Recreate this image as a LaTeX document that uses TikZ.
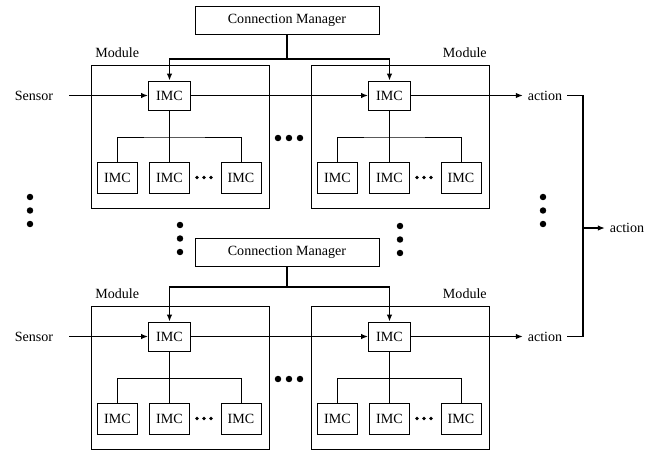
\documentclass[tikz,border=0pt]{standalone}
\usepackage{fontspec}
\setmainfont{Liberation Serif}
\usetikzlibrary{arrows.meta}

\begin{document}
\begin{tikzpicture}[
    x=0.025cm, y=-0.025cm,
    box/.style={draw, line width=0.6pt, inner sep=0pt, minimum width=1.05cm, minimum height=0.725cm},
    subbox/.style={box, minimum width=1cm, minimum height=0.775cm},
    module/.style={draw, line width=0.6pt, inner sep=0pt, minimum width=4.45cm, minimum height=3.575cm},
    manager/.style={box, minimum width=4.6cm, minimum height=0.7cm},
    arr/.style={-{Latex[length=5pt,width=4pt]}, line width=1pt},
    wire/.style={line width=0.6pt}
  ]
  \useasboundingbox (0,0) rectangle (651,450);

  % --- Two rows of modules, each with a connection manager ---
  \foreach \r/\dy/\cy/\by in {t/0/20.5/59, b/241/252.5/287} {
    \node[manager] (\r-cm) at (287,\cy) {Connection Manager};
    \coordinate (\r-bus) at (287,\by);
    \node (\r-sensor) at (34,95.5+\dy) {Sensor};
    \node (\r-act) at (545,95.5+\dy) {action};
    \node[anchor=base west, inner sep=0pt] (\r-a-lbl) at (95,57+\dy) {Module};
    \node[anchor=base east, inner sep=0pt] (\r-b-lbl) at (487,57+\dy) {Module};

    \foreach \m/\dx in {a/0, b/220} {
      \node[module] (\r-\m) at (180+\dx,136.5+\dy) {};
      \node[box] (\r-\m-imc) at (169.5+\dx,95.5+\dy) {IMC};
      \node[subbox] (\r-\m-1) at (117.5+\dx,177.5+\dy) {IMC};
      \node[subbox] (\r-\m-2) at (169.5+\dx,177.5+\dy) {IMC};
      \node[subbox] (\r-\m-3) at (241+\dx,177.5+\dy) {IMC};
      \coordinate (\r-\m-bus) at (169.5+\dx,137+\dy);

      % inner IMC tree
      \draw[wire] (\r-\m-imc) -- (\r-\m-2);
      \draw[wire] (\r-\m-1.north) |- (\r-\m-bus) -| (\r-\m-3.north);
      \foreach \k in {0,7,14}
        \fill (197+\k+\dx,177.5+\dy) circle[radius=1.4pt];
    }

    % dots between the two modules
    \foreach \k in {278,289,300}
      \fill (\k,138+\dy) circle[radius=2.3pt];

    % signal flow
    \draw[arr, shorten <=8pt] (\r-sensor) -- (\r-a-imc);
    \draw[arr] (\r-a-imc) -- (\r-b-imc);
    \draw[arr] (\r-b-imc) -- (\r-act);
    \draw[line width=1pt] (\r-cm) -- (\r-bus);
    \draw[arr] (\r-bus) -| (\r-a-imc.north);
    \draw[arr] (\r-bus) -| (\r-b-imc.north);
  }

  % --- Vertical dots between the rows ---
  \foreach \x/\y in {30/197, 543/197, 180/225, 400/226}
    \foreach \k in {0,13.5,27}
      \fill (\x,\y+\k) circle[radius=2.3pt];

  % --- Combined action ---
  \coordinate (rail-t) at (583,95.5);
  \coordinate (rail-m) at (583,228);
  \coordinate (rail-b) at (583,336.5);
  \node (out) at (627,228) {action};
  \draw[line width=1pt] (t-act) -- (rail-t) -- (rail-b) -- (b-act);
  \draw[arr] (rail-m) -- (out);
\end{tikzpicture}
\end{document}
